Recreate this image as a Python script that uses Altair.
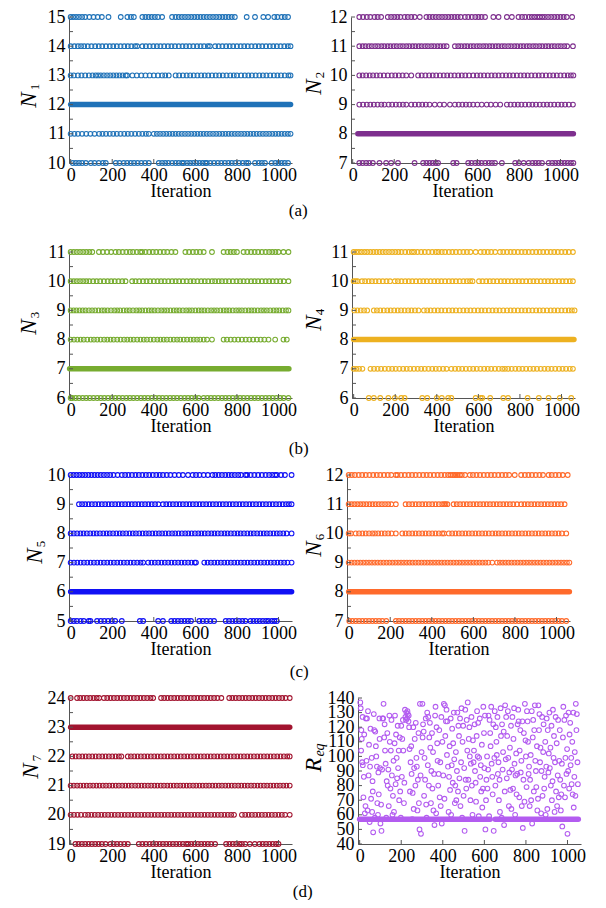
import altair as alt
import pandas as pd

FONT = "Liberation Serif"
W, H = 223, 146
XDOM = [-8, 1065]
XTICKS = [0, 200, 400, 600, 800, 1000]

# ---------------- N1 (panel a, left) ----------------
N1_pts = {
    15: [0, 12, 26, 40, 55, 70, 90, 110, 130, 150, 182, 241, 273, 290, 304, 345, 360, 375, 390, 405, 420, 440,
         488, 505, 520, 535, 550, 565, 580, 595, 610, 625, 640, 655, 670, 685, 700, 715, 730, 745, 760, 775, 790,
         847, 887, 927, 950, 980, 995, 1015, 1030, 1046],
    14: [0, 18, 35, 50, 65, 82, 100, 118, 135, 152, 170, 188, 205, 222, 240, 258, 275, 292, 310, 320, 345, 362,
         380, 398, 415, 432, 450, 468, 485, 502, 520, 538, 555, 572, 590, 608, 625, 642, 660, 670, 695, 712, 730,
         748, 765, 782, 800, 818, 835, 852, 870, 888, 905, 922, 940, 958, 975, 992, 1010, 1028, 1045, 1058],
    13: [0, 15, 35, 52, 70, 88, 105, 120, 132, 145, 160, 175, 190, 205, 220, 235, 250, 265, 272, 297, 318, 340,
         360, 380, 400, 420, 440, 455, 472, 505, 522, 540, 558, 575, 592, 610, 628, 645, 662, 680, 698, 715, 732,
         750, 768, 785, 800, 820, 838, 855, 872, 890, 908, 925, 942, 960, 978, 995, 1012, 1030, 1048, 1058],
    11: [0, 18, 35, 55, 75, 95, 115, 137, 153, 170, 188, 205, 222, 240, 258, 275, 292, 310, 328, 345, 362, 376,
         400, 415, 430, 445, 460, 475, 490, 505, 520, 535, 550, 565, 580, 595, 610, 625, 640, 655, 670, 685, 700,
         715, 730, 745, 760, 775, 790, 805, 820, 835, 850, 865, 880, 895, 910, 925, 940, 955, 970, 985, 1000,
         1015, 1030, 1045, 1058],
    10: [10, 25, 40, 55, 73, 97, 115, 135, 155, 169, 217, 235, 255, 272, 289, 305, 322, 340, 358, 376, 424, 440,
         455, 470, 488, 505, 520, 536, 544, 560, 575, 590, 605, 620, 635, 648, 655, 672, 690, 708, 725, 742, 759,
         775, 792, 810, 828, 845, 855, 887, 905, 920, 935, 967, 985, 1000, 1015, 1030, 1046],
}
N1_dense = [(12, 0, 1058)]

# ---------------- N2 (panel a, right) ----------------
N2_pts = {
    12: [32, 50, 68, 85, 105, 120, 137, 169, 185, 200, 215, 230, 250, 265, 282, 298, 323, 355, 370, 385, 400, 415,
         430, 445, 460, 475, 490, 505, 520, 540, 556, 573, 590, 605, 620, 637, 677, 702, 742, 766, 798, 815, 830,
         848, 862, 875, 888, 900, 912, 925, 940, 955, 970, 985, 1000, 1015, 1030, 1056],
    11: [32, 48, 62, 78, 92, 108, 122, 138, 152, 168, 182, 198, 212, 228, 242, 258, 272, 288, 302, 318, 332, 348,
         362, 378, 392, 408, 422, 438, 452, 492, 508, 522, 538, 552, 568, 582, 598, 612, 628, 642, 658, 672, 688,
         702, 718, 732, 748, 762, 778, 792, 808, 822, 838, 852, 868, 882, 898, 912, 928, 942, 958, 972, 988,
         1002, 1018, 1032, 1060],
    10: [32, 48, 65, 82, 98, 115, 132, 150, 169, 188, 205, 222, 240, 258, 282, 315, 332, 350, 368, 385, 402, 420,
         438, 455, 472, 490, 508, 525, 542, 560, 580, 598, 615, 632, 650, 668, 685, 702, 720, 738, 755, 772, 790,
         808, 825, 842, 860, 878, 895, 912, 930, 948, 965, 982, 1000, 1018, 1035, 1050, 1062],
    9: [32, 50, 68, 85, 102, 120, 138, 153, 173, 190, 208, 225, 242, 258, 282, 300, 318, 335, 352, 370, 395, 419,
        440, 468, 492, 510, 528, 545, 562, 580, 600, 621, 645, 665, 688, 710, 742, 760, 778, 795, 812, 830, 848,
        865, 882, 900, 918, 935, 952, 970, 988, 1005, 1022, 1040, 1060],
    7: [32, 48, 65, 80, 97, 129, 161, 185, 218, 298, 339, 355, 370, 385, 400, 411, 484, 500, 556, 572, 590, 605,
        620, 638, 655, 670, 685, 718, 782, 800, 823, 847, 865, 880, 895, 911, 943, 960, 975, 990, 1005, 1020,
        1035, 1050, 1062],
}
N2_dense = [(8, 25, 1062)]

# ---------------- N3 (panel b, left) ----------------
N3_pts = {
    11: [0, 15, 30, 45, 60, 75, 90, 104, 136, 155, 175, 195, 216, 232, 250, 268, 285, 300, 318, 335, 344, 360, 378,
         395, 412, 430, 448, 465, 485, 504, 552, 570, 588, 605, 622, 640, 680, 736, 755, 770, 785, 800, 832, 850,
         868, 885, 902, 920, 938, 955, 970, 985, 1000, 1024, 1048],
    10: [0, 15, 30, 45, 60, 75, 90, 108, 125, 142, 160, 178, 195, 212, 230, 248, 264, 296, 312, 330, 348, 365, 382,
         400, 418, 435, 452, 470, 488, 505, 522, 540, 558, 576, 592, 610, 628, 645, 662, 680, 695, 712, 728, 745,
         762, 780, 798, 815, 832, 850, 868, 885, 902, 920, 938, 955, 972, 990, 1008, 1025, 1048],
    9: [0, 14, 28, 43, 58, 72, 88, 103, 118, 134, 150, 163, 178, 194, 210, 224, 238, 255, 270, 284, 300, 316, 330,
        344, 360, 376, 390, 404, 420, 436, 450, 464, 480, 496, 510, 524, 540, 556, 570, 584, 600, 616, 630, 644,
        660, 676, 690, 704, 720, 736, 750, 764, 780, 796, 810, 824, 840, 856, 870, 884, 900, 916, 930, 944, 960,
        976, 990, 1004, 1020, 1036, 1048],
    8: [0, 16, 32, 48, 63, 80, 97, 112, 128, 144, 161, 176, 192, 207, 224, 240, 257, 272, 288, 303, 320, 336, 352,
        367, 384, 400, 417, 432, 448, 463, 480, 496, 512, 527, 544, 560, 577, 592, 608, 623, 640, 656, 680, 736,
        752, 770, 788, 806, 824, 842, 860, 878, 896, 914, 932, 952, 984, 1024, 1040],
    6: [0, 8, 24, 40, 58, 75, 92, 110, 128, 145, 162, 180, 198, 215, 232, 250, 268, 285, 302, 320, 338, 355, 372,
        390, 408, 425, 442, 460, 478, 495, 512, 530, 548, 565, 582, 600, 616, 640, 658, 675, 692, 710, 728, 745,
        762, 780, 798, 815, 832, 850, 868, 885, 902, 920, 938, 955, 972, 990, 1008, 1025, 1048],
}
N3_dense = [(7, -5, 1050)]

# ---------------- N4 (panel b, right) ----------------
N4_pts = {
    11: [0, 12, 25, 38, 52, 65, 80, 95, 110, 125, 140, 155, 170, 185, 200, 215, 230, 248, 265, 280, 291, 307, 325,
         342, 360, 378, 395, 408, 424, 440, 458, 475, 492, 510, 528, 545, 562, 587, 611, 628, 645, 662, 681, 704,
         720, 738, 755, 772, 790, 808, 825, 842, 860, 878, 895, 912, 930, 948, 965, 982, 1000, 1018, 1035, 1055],
    10: [0, 10, 19, 40, 55, 72, 88, 105, 122, 140, 158, 175, 198, 213, 230, 248, 265, 282, 300, 318, 335, 352, 370,
         388, 405, 422, 440, 458, 475, 492, 510, 528, 545, 560, 572, 603, 620, 638, 655, 672, 690, 708, 725, 742,
         760, 778, 795, 812, 830, 848, 865, 882, 900, 918, 935, 952, 970, 988, 1005, 1022, 1040, 1055],
    9: [3, 18, 34, 50, 65, 97, 112, 128, 145, 162, 178, 195, 212, 228, 245, 262, 278, 295, 312, 338, 354, 370, 388,
        405, 422, 440, 458, 475, 492, 510, 528, 545, 562, 580, 598, 615, 632, 650, 668, 685, 702, 720, 738, 755,
        772, 790, 808, 825, 842, 860, 878, 895, 912, 930, 948, 965, 982, 1000, 1018, 1035, 1050, 1063],
    7: [0, 12, 26, 42, 81, 98, 115, 132, 150, 168, 185, 202, 220, 238, 255, 272, 290, 308, 325, 342, 360, 378, 395,
        412, 430, 447, 470, 488, 505, 522, 540, 558, 575, 592, 610, 628, 645, 662, 680, 698, 715, 728, 743, 760,
        778, 795, 812, 830, 848, 865, 882, 900, 918, 935, 952, 970, 988, 1005, 1022, 1040, 1055],
    6: [73, 97, 128, 167, 198, 229, 245, 330, 354, 400, 424, 455, 470, 587, 611, 619, 657, 720, 743, 837, 891, 938,
        992, 1047],
}
N4_dense = [(8, 0, 1060)]

# ---------------- N5 (panel c, left) ----------------
N5_pts = {
    10: [0, 14, 28, 42, 56, 70, 85, 100, 115, 130, 145, 160, 175, 190, 206, 226, 246, 262, 278, 295, 312, 328, 345,
         362, 378, 395, 412, 428, 444, 462, 480, 500, 520, 540, 565, 587, 603, 620, 640, 660, 682, 696, 712, 728,
         744, 760, 775, 790, 806, 820, 841, 849, 866, 884, 902, 920, 938, 955, 970, 984, 992, 1012, 1031, 1063],
    9: [40, 55, 70, 86, 102, 118, 134, 150, 166, 182, 198, 214, 230, 246, 262, 278, 294, 310, 326, 342, 358, 374,
        390, 406, 422, 444, 460, 476, 492, 508, 524, 540, 556, 572, 588, 604, 620, 636, 652, 668, 684, 700, 716,
        732, 748, 764, 780, 796, 812, 828, 844, 860, 876, 892, 908, 924, 940, 956, 972, 988, 1004, 1020, 1036,
        1050, 1063],
    8: [0, 15, 31, 47, 62, 78, 94, 110, 125, 141, 157, 173, 188, 204, 220, 236, 251, 267, 283, 299, 314, 330, 346,
        362, 377, 393, 409, 425, 440, 456, 472, 488, 503, 519, 535, 551, 566, 582, 598, 614, 629, 645, 661, 677,
        692, 708, 724, 740, 755, 771, 787, 803, 818, 834, 850, 866, 881, 897, 913, 929, 944, 960, 976, 992,
        1007, 1023, 1039, 1063],
    7: [0, 16, 32, 48, 64, 80, 96, 112, 128, 144, 160, 176, 192, 208, 224, 240, 256, 272, 288, 304, 320, 336, 349,
        373, 389, 405, 421, 437, 453, 469, 485, 501, 517, 533, 549, 565, 581, 597, 603, 643, 659, 675, 691, 707,
        723, 739, 755, 771, 787, 803, 819, 835, 851, 867, 883, 899, 915, 931, 947, 963, 979, 995, 1011, 1027,
        1043, 1063],
    5: [0, 15, 30, 48, 63, 87, 95, 127, 145, 162, 180, 198, 214, 246, 333, 349, 421, 444, 484, 500, 516, 532, 548,
        564, 579, 619, 636, 654, 672, 690, 746, 762, 778, 794, 810, 826, 841, 865, 880, 895, 910, 925, 940, 952,
        968, 980, 992],
}
N5_dense = [(6, 0, 1063)]

# ---------------- N6 (panel c, right) ----------------
N6_pts = {
    12: [0, 15, 30, 48, 65, 82, 100, 118, 135, 152, 170, 188, 205, 227, 235, 252, 270, 288, 305, 322, 340, 358,
         375, 392, 410, 428, 445, 462, 478, 490, 500, 508, 516, 525, 535, 544, 560, 583, 598, 615, 632, 650, 668,
         685, 702, 720, 738, 755, 772, 799, 830, 848, 865, 882, 900, 918, 935, 962, 977, 995, 1012, 1030, 1054],
    11: [0, 14, 28, 42, 56, 70, 85, 100, 115, 130, 145, 160, 175, 190, 205, 227, 274, 290, 306, 322, 338, 354, 370,
         386, 402, 418, 434, 450, 460, 466, 475, 505, 520, 536, 552, 568, 584, 600, 616, 632, 648, 664, 680, 696,
         712, 728, 744, 760, 776, 792, 810, 830, 846, 862, 878, 894, 910, 926, 942, 958, 974, 990, 1006, 1022,
         1039],
    10: [0, 11, 34, 50, 66, 82, 98, 114, 127, 142, 158, 174, 190, 206, 227, 258, 274, 290, 306, 322, 338, 354, 370,
         386, 402, 418, 434, 450, 459, 482, 498, 514, 530, 546, 562, 578, 594, 610, 626, 642, 658, 674, 691, 707,
         722, 738, 754, 770, 786, 802, 818, 834, 850, 866, 882, 898, 914, 930, 946, 962, 978, 994, 1010, 1026,
         1047],
    9: [0, 14, 28, 42, 56, 70, 84, 98, 112, 126, 140, 154, 168, 182, 196, 210, 224, 238, 252, 266, 280, 294, 308,
        322, 336, 350, 364, 378, 392, 406, 420, 434, 448, 462, 476, 490, 504, 518, 532, 546, 560, 574, 588, 602,
        616, 630, 644, 658, 672, 691, 714, 728, 742, 756, 770, 784, 798, 812, 826, 840, 854, 868, 882, 896, 910,
        924, 938, 952, 966, 980, 994, 1008, 1022, 1036, 1050, 1062],
    7: [3, 18, 34, 50, 66, 82, 98, 114, 130, 146, 162, 181, 227, 242, 258, 274, 290, 306, 322, 338, 354, 370, 386,
        402, 418, 434, 450, 466, 482, 498, 514, 530, 546, 562, 578, 594, 610, 626, 642, 658, 674, 690, 706, 722,
        738, 754, 770, 786, 802, 818, 834, 850, 866, 882, 898, 914, 930, 946, 962, 978, 994, 1010, 1026, 1047],
}
N6_dense = [(8, 0, 1062)]

# ---------------- N7 (panel d, left) ----------------
N7_pts = {
    24: [0, 31, 46, 62, 78, 94, 110, 125, 137, 160, 176, 192, 208, 224, 240, 256, 272, 288, 304, 320, 336, 352,
         368, 384, 397, 435, 450, 466, 482, 498, 514, 530, 546, 562, 578, 594, 610, 626, 642, 658, 674, 690, 706,
         725, 763, 778, 794, 810, 826, 842, 858, 874, 890, 906, 922, 938, 954, 970, 986, 1002, 1018, 1034, 1054],
    22: [8, 24, 40, 56, 72, 88, 104, 120, 136, 152, 168, 184, 200, 216, 232, 244, 275, 290, 306, 322, 338, 354,
         370, 386, 402, 418, 434, 450, 466, 482, 498, 514, 530, 546, 562, 578, 594, 610, 626, 642, 658, 674, 690,
         706, 722, 738, 754, 770, 786, 802, 818, 834, 850, 866, 882, 898, 914, 930, 946, 962, 978, 994, 1010,
         1026, 1042, 1054],
    21: [0, 15, 31, 46, 62, 77, 93, 108, 124, 139, 155, 170, 186, 201, 217, 232, 248, 263, 279, 294, 310, 325, 341,
         356, 372, 387, 403, 418, 434, 449, 465, 480, 496, 511, 527, 542, 558, 573, 589, 604, 620, 635, 651, 666,
         682, 697, 713, 728, 744, 759, 775, 790, 806, 821, 837, 852, 868, 883, 899, 914, 930, 945, 961, 976, 992,
         1007, 1023, 1038, 1054],
    20: [0, 16, 33, 50, 69, 84, 100, 116, 132, 148, 164, 180, 196, 212, 228, 244, 260, 276, 292, 308, 324, 340, 356,
         372, 388, 404, 420, 436, 452, 468, 484, 500, 516, 532, 548, 564, 580, 596, 612, 628, 644, 660, 676, 692,
         708, 724, 740, 756, 772, 786, 824, 840, 856, 872, 888, 904, 920, 936, 952, 968, 984, 1000, 1016, 1032,
         1054],
    19: [23, 38, 54, 70, 86, 102, 118, 134, 150, 168, 191, 207, 223, 240, 258, 275, 328, 345, 362, 380, 396, 412,
         428, 444, 460, 476, 492, 508, 524, 540, 556, 565, 580, 596, 612, 628, 644, 660, 676, 695, 748, 764, 780,
         796, 812, 824, 840, 862, 886, 908, 924, 940, 956, 972, 988, 1000],
}
N7_dense = [(23, 0, 1054)]

# ---------------- R_eq (panel d, right) ----------------
REQ_it_a = [5, 8, 10, 12, 15, 20, 18, 25, 30, 35, 40, 45, 50, 55, 60, 62, 65, 70, 75, 80, 85, 88, 90, 95, 98, 100,
            105, 110, 115, 118, 120, 125, 130, 135, 140, 145, 150, 155, 160, 165, 170, 175, 178, 180, 185, 190, 195,
            198, 200,
            205, 210, 215, 220, 225, 228, 232, 235, 238, 240, 245, 250, 255, 260, 265, 270, 275, 280, 285, 288, 290,
            295, 298,
            302, 305, 308, 312, 315, 320, 325, 330, 335, 340, 345, 350, 355, 360, 365, 370, 375, 380, 385, 390, 395,
            398,
            405, 410, 415, 418, 420, 425, 430, 435, 440, 445, 450, 455, 460, 465, 470, 475, 480, 485, 490, 495, 500,
            505, 510, 515, 520, 525, 530, 535, 540, 545, 550, 555, 560, 565, 570, 575, 580, 585, 590, 595, 600,
            605, 610, 615, 620, 625, 630, 635, 640, 645, 650, 655, 660, 665, 670, 675, 680, 685, 690, 695, 700,
            705, 710, 715, 720, 725, 730, 735, 740, 745, 750, 755, 760, 765, 770, 775, 780, 785, 790, 795, 800,
            805, 810, 815, 820, 825, 830, 835, 840, 845, 850, 855, 860, 865, 870, 875, 880, 885, 890, 895, 900,
            905, 910, 915, 920, 925, 930, 935, 940, 945, 950, 955, 960, 965, 970, 975, 980, 985, 990, 995, 1000,
            1005, 1010, 1015, 1020, 1025, 1030, 1035, 1040, 1045, 1050]
REQ_val_a = [133, 118, 112, 96, 94, 86, 72, 61, 126, 126, 131, 108, 93, 71, 62, 83, 48, 118, 117, 100, 68, 60, 89,
             126, 92, 54,
             49, 126, 136, 113, 122, 95, 83, 80, 66, 110, 104, 87, 73, 62, 128, 115, 99, 85, 92, 70, 76, 58, 121,
             112, 104, 82, 127, 130, 126, 129, 124, 120, 105, 96, 88, 75, 64, 112, 123, 93, 84, 68, 50, 136, 47, 103,
             136, 122, 117, 99, 84, 67, 130, 127, 113, 106, 90, 78, 63, 53, 134, 120, 97, 88, 72, 66, 54, 110,
             136, 135, 124, 132, 101, 93, 86, 77, 60, 119, 109, 98, 80, 70, 130, 121, 85, 66, 133, 110, 73,
             49, 84, 125, 137, 112, 100, 95, 80, 111, 104, 90, 69, 131, 123, 99, 86, 76, 65, 134, 92,
             50, 84, 78, 128, 125, 107, 95, 74, 49, 131, 120, 101, 88, 70, 62, 114, 122, 103, 53, 135,
             127, 114, 99, 89, 77, 64, 127, 112, 95, 87, 74, 122, 124, 104, 89, 66, 51, 116, 136, 100,
             131, 110, 93, 84, 70, 54, 125, 118, 97, 79, 63, 135, 129, 106, 90, 73, 122, 86, 60, 126,
             118, 102, 92, 80, 70, 132, 114, 96, 76, 66, 125, 97, 84, 74, 52, 134, 125, 99, 88, 47,
             130, 115, 94, 81, 74, 65, 103, 136, 129, 81]
REQ_it_b = [3, 7, 14, 22, 28, 33, 38, 43, 48, 52, 58, 63, 68, 73, 78, 83, 92, 96,
            103, 108, 113, 122, 128, 133, 138, 143, 148, 153, 158, 163, 168, 173, 183, 188, 193,
            203, 208, 213, 218, 223, 230, 236, 242, 248, 253, 258, 262, 268, 273, 278, 283, 293,
            303, 310, 318, 322, 328, 333, 338, 343, 348, 353, 358, 363, 368, 373, 378, 383, 388, 393,
            402, 408, 412, 422, 428, 433, 438, 443, 448, 453, 458, 463, 468, 473, 478, 483, 488, 493, 498,
            503, 508, 513, 518, 523, 528, 533, 538, 543, 548, 553, 558, 563, 568, 573, 578, 583, 588, 593, 598,
            603, 608, 613, 618, 623, 628, 633, 638, 643, 648, 653, 658, 663, 668, 673, 678, 683, 688, 693, 698,
            703, 708, 713, 718, 723, 728, 733, 738, 743, 748, 753, 758, 763, 768, 773, 778, 783, 788, 793, 798,
            803, 808, 813, 818, 823, 828, 833, 838, 843, 848, 853, 858, 863, 868, 873, 878, 883, 888, 893, 898,
            903, 908, 913, 918, 923, 928, 933, 938, 943, 948, 953, 958, 963, 968, 973, 978, 983, 988, 993, 998,
            1003, 1008, 1013, 1018, 1023, 1028, 1033, 1038, 1043, 1048]
REQ_val_b = [137, 104, 127, 115, 66, 97, 63, 87, 55, 119, 99, 76, 129, 58, 107, 93, 74, 112,
             67, 91, 126, 104, 58, 116, 91, 128, 78, 125, 60, 97, 109, 81, 121, 104, 113,
             86, 125, 68, 132, 125, 131, 128, 76, 107, 57, 120, 92, 80, 99, 63, 116, 87,
             113, 73, 126, 58, 94, 80, 123, 68, 116, 103, 88, 128, 61, 109, 80, 118, 96, 127,
             87, 71, 114, 124, 62, 107, 126, 94, 82, 130, 68, 103, 90, 76, 114, 126, 96, 58, 121,
             92, 132, 78, 104, 84, 120, 70, 127, 60, 96, 122, 82, 114, 100, 59, 126, 94, 108, 78, 116,
             128, 70, 100, 91, 59, 116, 134, 86, 122, 99, 80, 110, 127, 96, 84, 133, 58, 91, 117, 76,
             98, 85, 131, 66, 106, 121, 91, 78, 133, 60, 102, 88, 132, 72, 118, 97, 124, 84, 69, 111,
             79, 124, 88, 66, 101, 131, 113, 76, 135, 90, 107, 71, 118, 96, 61, 127, 103, 78, 110, 93,
             64, 89, 130, 106, 121, 83, 99, 62, 127, 109, 87, 72, 118, 63, 95, 113, 80, 72, 128, 105,
             90, 78, 123, 99, 110, 130, 86, 73, 118, 96]
REQ_dense = [(57, 0, 628), (57, 652, 1052)]

COLORS = {
    "N1": "#1f72b8", "N2": "#7e2f8e", "N3": "#77ac30", "N4": "#edb120",
    "N5": "#1010f5", "N6": "#ff6a2b", "N7": "#a2142f", "REQ": "#b35cf0",
}


def levels_frame(pts):
    return pd.DataFrame([{"it": x, "v": lvl} for lvl, xs in pts.items() for x in xs])


def panel(df, dense, color, ydom, yticks, sym, sub, tpos, w=W, h=H):
    dx, dyn, dys = tpos
    xax = alt.Axis(values=XTICKS, title="Iteration", format="d", titlePadding=-2, labelPadding=3,
                   ticks=False, labelFlush=False)
    yax = alt.Axis(values=yticks, title=None, format="d",
                   labelExpr="datum.value % 1 === 0 ? datum.label : ''",
                   labelOverlap=False, labelPadding=4, ticks=False)
    xs = alt.Scale(domain=XDOM, nice=False, zero=False)
    ys = alt.Scale(domain=ydom, nice=False, zero=False)
    pts = alt.Chart(df).mark_point(shape="circle", filled=False, size=22, strokeWidth=1.1, color=color,
                                   opacity=1).encode(
        x=alt.X("it:Q", scale=xs, axis=xax), y=alt.Y("v:Q", scale=ys, axis=yax))
    ddf = pd.DataFrame(dense, columns=["v", "a", "b"])
    rule = alt.Chart(ddf).mark_rule(color=color, strokeWidth=5.5, strokeCap="round").encode(
        x=alt.X("a:Q", scale=xs, axis=xax), x2="b:Q", y=alt.Y("v:Q", scale=ys, axis=yax))
    ytk = alt.Chart(pd.DataFrame({"t": yticks})).mark_rule(color="#555", strokeWidth=1).encode(
        x=alt.value(0), x2=alt.value(4), y=alt.Y("t:Q", scale=ys, axis=yax))
    xtk = alt.Chart(pd.DataFrame({"t": XTICKS})).mark_rule(color="#555", strokeWidth=1).encode(
        x=alt.X("t:Q", scale=xs, axis=xax), y=alt.value(h), y2=alt.value(h - 4))
    t1 = alt.Chart(pd.DataFrame({"t": [sym]})).mark_text(
        font=FONT, fontSize=23, fontStyle="italic", angle=270, align="center", baseline="middle",
        color="black").encode(x=alt.value(dx), y=alt.value(h / 2 + dyn), text="t:N")
    t2 = alt.Chart(pd.DataFrame({"t": [sub]})).mark_text(
        font=FONT, fontSize=14 if sub == "eq" else 13, fontStyle="italic" if sub == "eq" else "normal",
        angle=270, align="center", baseline="middle", color="black").encode(
        x=alt.value(dx + 6), y=alt.value(h / 2 + dys), text="t:N")
    return alt.layer(pts, rule, ytk, xtk, t1, t2).properties(width=w, height=h)


def half_ticks(lo, hi):
    return [lo + 0.5 * i for i in range(int((hi - lo) * 2) + 1)]


pN1 = panel(levels_frame(N1_pts), N1_dense, COLORS["N1"], [10, 15], half_ticks(10, 15), "N", "1", (-40, 10, -3))
pN2 = panel(levels_frame(N2_pts), N2_dense, COLORS["N2"], [7, 12], half_ticks(7, 12), "N", "2", (-37, -3, -15))
pN3 = panel(levels_frame(N3_pts), N3_dense, COLORS["N3"], [6, 11], half_ticks(6, 11), "N", "3", (-40, 2, -10))
pN4 = panel(levels_frame(N4_pts), N4_dense, COLORS["N4"], [6, 11], half_ticks(6, 11), "N", "4", (-38, -2, -13))
pN5 = panel(levels_frame(N5_pts), N5_dense, COLORS["N5"], [5, 10], half_ticks(5, 10), "N", "5", (-34, 8, -4))
pN6 = panel(levels_frame(N6_pts), N6_dense, COLORS["N6"], [7, 12], half_ticks(7, 12), "N", "6", (-33, 1, -11))
pN7 = panel(levels_frame(N7_pts), N7_dense, COLORS["N7"], [19, 24], half_ticks(19, 24), "N", "7", (-38, 0, -13))
req_df = pd.DataFrame({"it": REQ_it_a + REQ_it_b, "v": REQ_val_a + REQ_val_b})
pREQ = panel(req_df, REQ_dense, COLORS["REQ"], [40, 140], list(range(40, 141, 10)), "R", "eq", (-44, -6, -21))


def row(a, b, cap, offset, extra=0):
    kw = {}
    if extra:
        kw = dict(subtitle=" ", subtitleFontSize=extra, subtitlePadding=0)
    return alt.hconcat(a, b, spacing=6).properties(
        title=alt.TitleParams(cap, orient="bottom", anchor="middle", font=FONT, fontSize=17,
                              fontWeight="normal", color="black", offset=offset, **kw))


chart = alt.vconcat(
    row(pN1, pN2, "(a)", 3, extra=14), row(pN3, pN4, "(b)", 6), row(pN5, pN6, "(c)", 6),
    row(pN7, pREQ, "(d)", 3),
    spacing=9,
).properties(padding={"left": 10, "top": 0, "right": 0, "bottom": 0}).configure_view(
    stroke=None
).configure_axis(
    labelFont=FONT, labelFontSize=18, labelColor="black", titleFont=FONT, titleFontSize=18,
    titleColor="black", titleFontWeight="normal", domainColor="#555", tickColor="#555",
    grid=False,
)

chart.save("out.html", embed_options={"renderer": "svg", "actions": False})
